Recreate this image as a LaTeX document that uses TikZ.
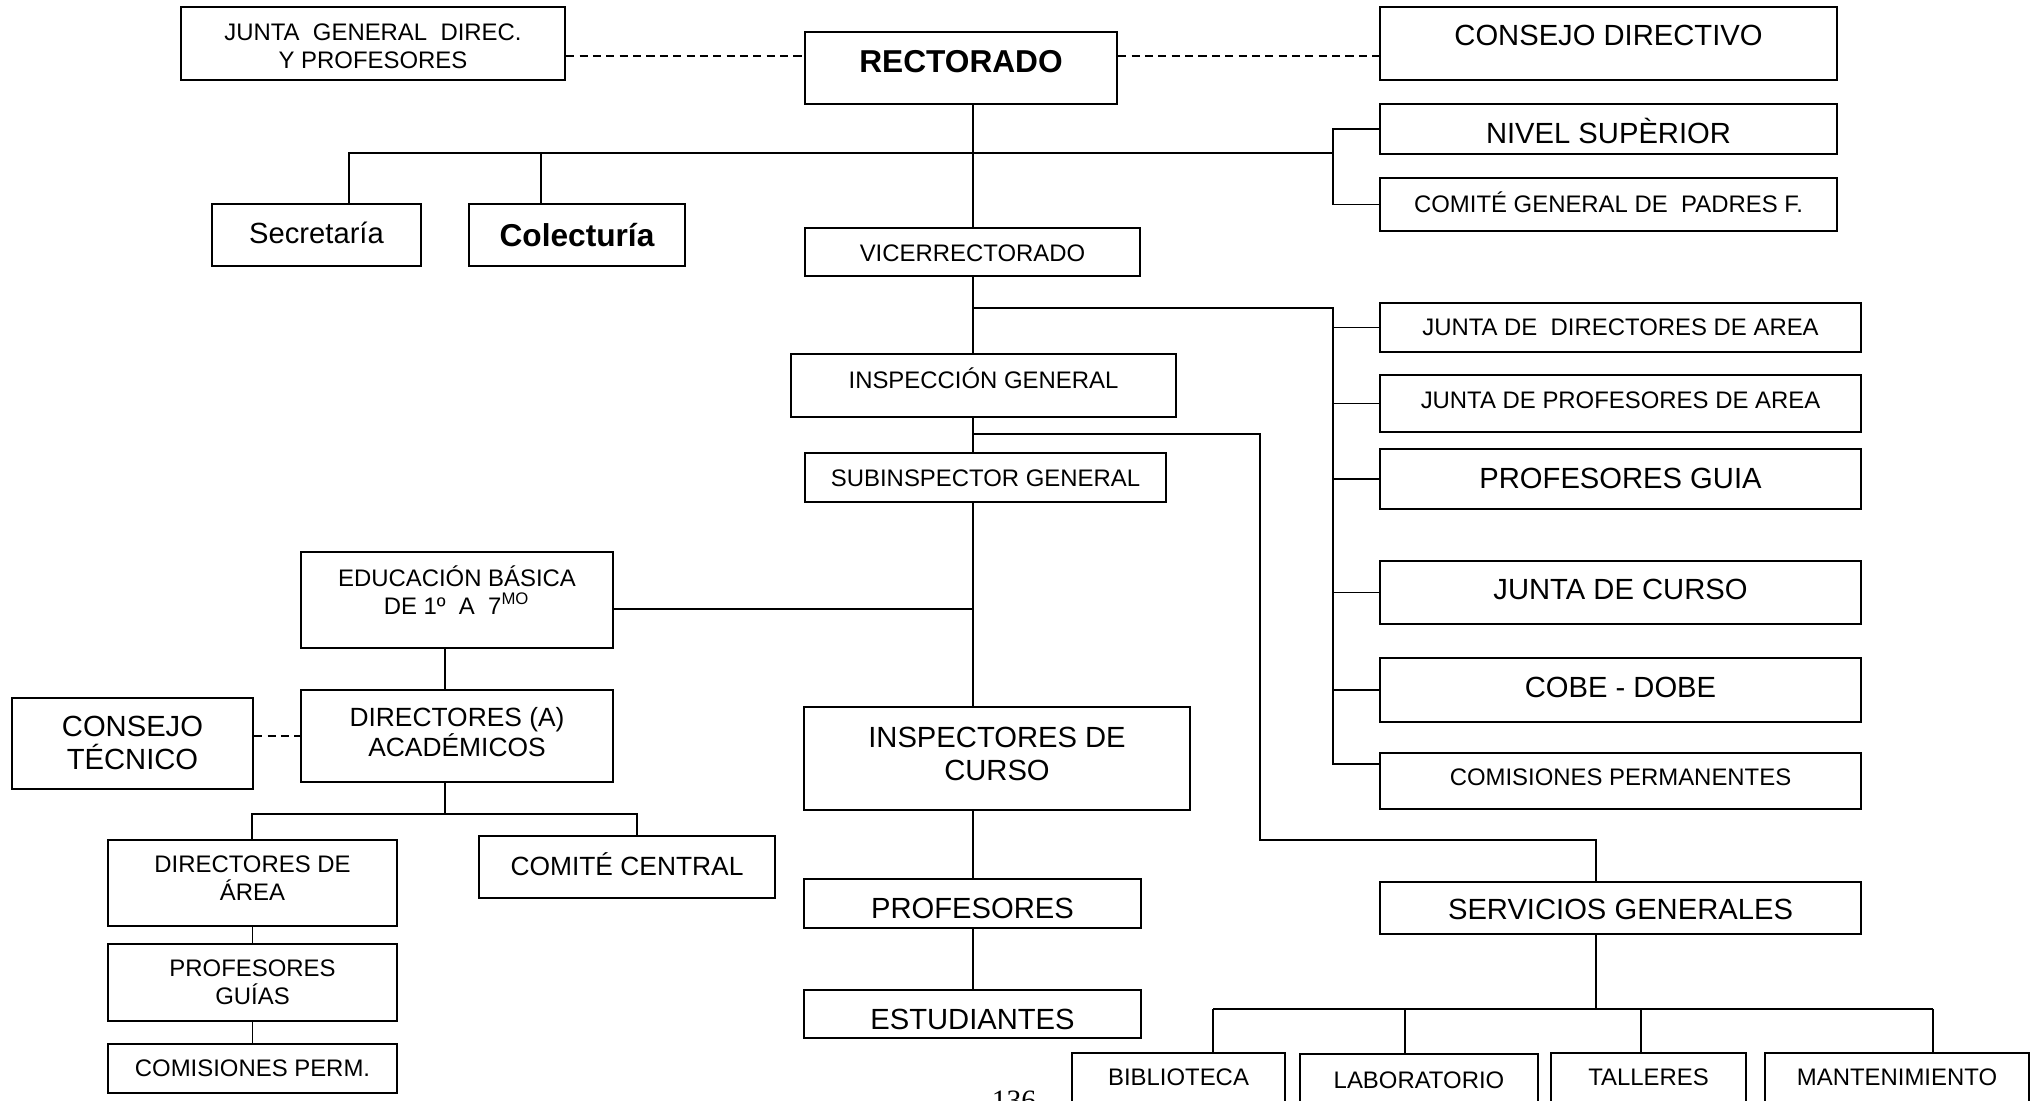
\documentclass[tikz,border=0pt]{standalone}
\usepackage{fontspec}
\setmainfont{Liberation Sans}
\newfontfamily\pagefont{Liberation Serif}
\usepackage{tikz}
\newcommand{\orgbox}[8]{\node[box,minimum width={(#4-#2)*0.01cm},minimum height={(#5-#3)*0.01cm}] (#1) at ({(#2+#4)/2},{(#3+#5)/2}) {};
\node[lbl,#7] (#1t) at ({(#2+#4)/2},#6) {#8};}

\begin{document}
\begin{tikzpicture}[x=0.01cm,y=-0.01cm,
  box/.style={draw,line width=0.7pt,inner sep=0pt},
  lbl/.style={align=center,inner sep=0pt},
  txts/.style={font=\fontsize{6.8}{8}\selectfont},
  txtm/.style={font=\fontsize{7.5}{8.6}\selectfont},
  txtl/.style={font=\fontsize{8.3}{9.4}\selectfont},
  txtb/.style={font=\fontsize{9}{10.5}\selectfont\bfseries},
  link/.style={line width=0.55pt},
  dashlink/.style={line width=0.6pt,dash pattern=on 2.3pt off 1.5pt}]
\useasboundingbox (0,0) rectangle (2039,1101);
\clip (0,0) rectangle (2039,1101);
% top
\orgbox{junta}{181}{7}{565}{80}{46}{txts}{JUNTA\ \ GENERAL\ \ DIREC.\\Y PROFESORES}
\orgbox{rect}{805}{32}{1117}{104}{62}{txtb}{RECTORADO}
\orgbox{cdir}{1380}{7}{1837}{80}{35.5}{txtl}{CONSEJO DIRECTIVO}
\orgbox{secr}{212}{204}{421}{266}{233}{txtl}{Secretaría}
\orgbox{colec}{469}{204}{685}{266}{235.5}{txtb}{Colecturía}
\orgbox{nivel}{1380}{104}{1837}{154}{131}{txtl}{NIVEL SUPÈRIOR}
\orgbox{cgpf}{1380}{178}{1837}{231}{202}{txts}{COMITÉ GENERAL DE\ \ PADRES F.}
\orgbox{vice}{805}{228}{1140}{276}{253}{txts}{VICERRECTORADO}
% middle column
\orgbox{insp}{791}{354}{1176}{417}{378.5}{txts}{INSPECCIÓN GENERAL}
\orgbox{subi}{805}{453}{1166}{502}{478.5}{txts}{SUBINSPECTOR GENERAL}
\orgbox{icur}{804}{707}{1190}{810}{753.5}{txtl}{INSPECTORES DE\\CURSO}
\orgbox{prof}{804}{879}{1141}{928}{908}{txtl}{PROFESORES}
\orgbox{estu}{804}{990}{1141}{1038}{1019}{txtl}{ESTUDIANTES}
% right column
\orgbox{jdir}{1380}{303}{1861}{352}{327.5}{txts}{JUNTA DE\ \ DIRECTORES DE AREA}
\orgbox{jprof}{1380}{375}{1861}{432}{400}{txts}{JUNTA DE PROFESORES DE AREA}
\orgbox{pguia}{1380}{449}{1861}{509}{478.5}{txtl}{PROFESORES GUIA}
\orgbox{jcur}{1380}{561}{1861}{624}{589.5}{txtl}{JUNTA DE CURSO}
\orgbox{cobe}{1380}{658}{1861}{722}{687}{txtl}{COBE - DOBE}
\orgbox{cperm}{1380}{753}{1861}{809}{777.5}{txts}{COMISIONES PERMANENTES}
\orgbox{serv}{1380}{882}{1861}{934}{909.5}{txtl}{SERVICIOS GENERALES}
\orgbox{bib}{1072}{1053}{1285}{1120}{1077.5}{txts}{BIBLIOTECA}
\orgbox{lab}{1300}{1054}{1538}{1120}{1080}{txts}{LABORATORIO}
\orgbox{tall}{1551}{1053}{1746}{1120}{1077.5}{txts}{TALLERES}
\orgbox{mant}{1765}{1053}{2029}{1120}{1077.5}{txts}{MANTENIMIENTO}
% left column
\orgbox{edu}{301}{552}{613}{648}{590.5}{txts}{EDUCACIÓN BÁSICA\\DE 1º\ \ A\ \ 7\textsuperscript{MO}}
\orgbox{dira}{301}{690}{613}{782}{732}{txtm}{DIRECTORES (A)\\ACADÉMICOS}
\orgbox{ctec}{12}{698}{253}{789}{743}{txtl}{CONSEJO\\TÉCNICO}
\orgbox{darea}{108}{840}{397}{926}{878.5}{txts}{DIRECTORES DE\\ÁREA}
\orgbox{ccen}{479}{836}{775}{898}{864}{txtm}{COMITÉ CENTRAL}
\orgbox{pgui2}{108}{944}{397}{1021}{982.5}{txts}{PROFESORES\\GUÍAS}
\orgbox{cpm}{108}{1044}{397}{1093}{1068.5}{txts}{COMISIONES PERM.}
\node[font=\pagefont\fontsize{8.4}{10}\selectfont,anchor=base,inner sep=0pt] (pnum) at (1014,1110) {136};

% connectors
\coordinate (trunk) at (973,0);
\coordinate (dsh) at (0,56);
\draw[dashlink] (junta.east |- dsh) -- (rect.west |- dsh);
\draw[dashlink] (rect.east |- dsh) -- (cdir.west |- dsh);
\draw[link] (rect.south -| trunk) -- (vice.north -| trunk);
\coordinate (s1) at (349,153);
\coordinate (c1) at (541,153);
\coordinate (n1) at (1333,153);
\draw[link] (s1 |- secr.north) -- (s1) -- (n1);
\draw[link] (c1 |- colec.north) -- (c1);
\draw[link] (nivel.west) -| (n1) |- (cgpf.west);
\coordinate (v1) at (1333,308);
\coordinate (v2) at (1333,764);
\draw[link] (vice.south -| trunk) -- (insp.north -| trunk);
\draw[link] (v1 -| trunk) -- (v1) -- (v2) -- (v2 -| cperm.west);
\foreach \n in {jdir,jprof,pguia,jcur,cobe}
  \draw[link] (\n.west) -- (\n.west -| v1);
\coordinate (w1) at (1260,434);
\coordinate (w2) at (1260,840);
\coordinate (w3) at (1596,840);
\coordinate (e1) at (973,609);
\draw[link] (insp.south -| trunk) -- (subi.north -| trunk);
\draw[link] (w1 -| trunk) -- (w1) -- (w2) -- (w3) -- (w3 |- serv.north);
\draw[link] (subi.south -| trunk) -- (icur.north -| trunk);
\draw[link] (edu.east |- e1) -- (e1);
\draw[link] (icur.south -| trunk) -- (prof.north -| trunk);
\draw[link] (prof.south -| trunk) -- (estu.north -| trunk);
\coordinate (k1) at (1213,1009);
\coordinate (k2) at (1933,1009);
\draw[link] (w3 |- serv.south) -- (w3 |- k1);
\draw[link] (k1) -- (k2);
\foreach \n/\x in {bib/1213,lab/1405,tall/1641,mant/1933}
  \draw[link] (\x,1009) -- (\x,0 |- \n.north);
\coordinate (l1) at (445,0);
\coordinate (lb1) at (252,814);
\coordinate (lb2) at (637,814);
\draw[link] (l1 |- edu.south) -- (l1 |- dira.north);
\draw[dashlink] (ctec.east |- dira.west) -- (dira.west);
\draw[link] (l1 |- dira.south) -- (l1 |- lb1);
\draw[link] (darea.north -| lb1) -- (lb1) -- (lb2) -- (lb2 |- ccen.north);
\draw[link] (darea) -- (pgui2);
\draw[link] (pgui2) -- (cpm);
\end{tikzpicture}
\end{document}
